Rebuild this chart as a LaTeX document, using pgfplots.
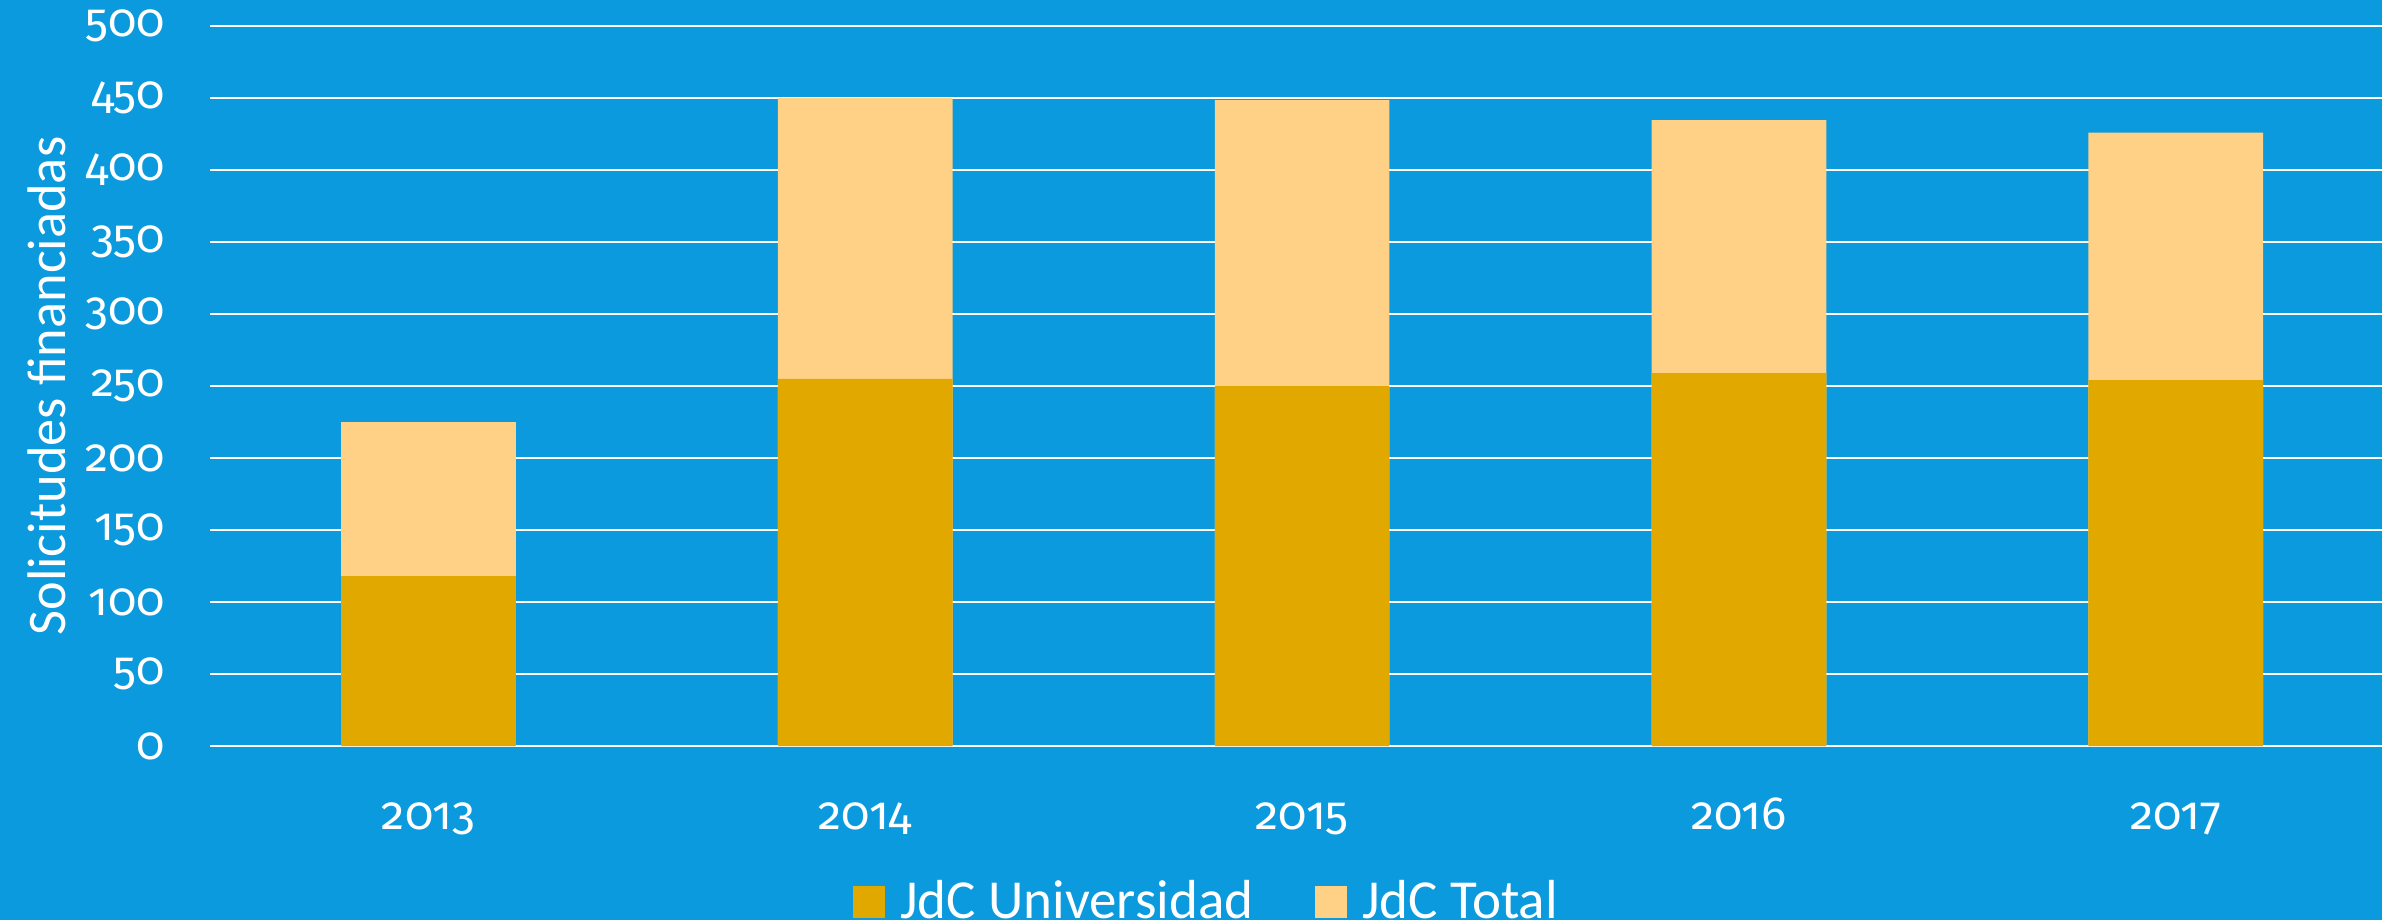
\documentclass[border=0pt]{standalone}
\usepackage{pgfplots}
\pgfplotsset{compat=1.18}
\usepackage{fontspec}
\setmainfont{Carlito}
\newfontfamily\numfont{Fira Sans}[Numbers=OldStyle]
\definecolor{bg}{HTML}{0B9ADE}
\definecolor{dgold}{HTML}{E1A900}
\definecolor{lgold}{HTML}{FFD186}
\begin{document}
\begin{tikzpicture}
\fill[bg] (0,0) rectangle (714.6pt,276pt);
\useasboundingbox (0,0) rectangle (714.6pt,276pt);
\begin{axis}[
  at={(63pt,52.2pt)}, anchor=south west,
  scale only axis, width=651.6pt, height=216pt,
  xmin=-0.5, xmax=4.472, ymin=0, ymax=500,
  ybar, bar width=0.4, bar shift=0pt,
  axis line style={draw=none},
  major tick length=0pt,
  ytick={0,50,...,500},
  ymajorgrids, grid style={white, line width=0.8pt},
  xtick={0,1,2,3,4},
  xticklabels={2013,2014,2015,2016,2017},
  tick label style={white, font=\numfont\fontsize{14}{17}\selectfont},
  /pgf/number format/assume math mode=true,
  yticklabel style={xshift=-10pt},
  xticklabel style={anchor=base, yshift=-25pt},
  ylabel={Solicitudes financiadas},
  ylabel style={at={(axis description cs:0,0.5)}, anchor=center, yshift=49pt, white, font=\fontsize{16.3}{19}\selectfont},
  legend columns=2,
  legend style={at={(0.4595,-0.217)}, anchor=center, draw=none, fill=none,
    text=white, font=\fontsize{16.5}{19}\selectfont,
    /tikz/every even column/.append style={column sep=17pt},
    /tikz/every odd column/.append style={column sep=3pt},
    nodes={inner sep=1.5pt}},
  legend image code/.code={\fill[#1] (0pt,-4.8pt) rectangle (9.6pt,4.8pt);},
]
\addlegendimage{fill=dgold, draw=none}
\addlegendentry{JdC Universidad}
\addlegendimage{fill=lgold, draw=none}
\addlegendentry{JdC Total}
\addplot[fill=lgold, draw=none, forget plot] coordinates {(0,225) (1,450) (2,448.6) (3,434.7) (4,426)};
\addplot[fill=dgold, draw=none, forget plot] coordinates {(0,118) (1,255) (2,250) (3,259) (4,254)};
\end{axis}
\end{tikzpicture}
\end{document}
